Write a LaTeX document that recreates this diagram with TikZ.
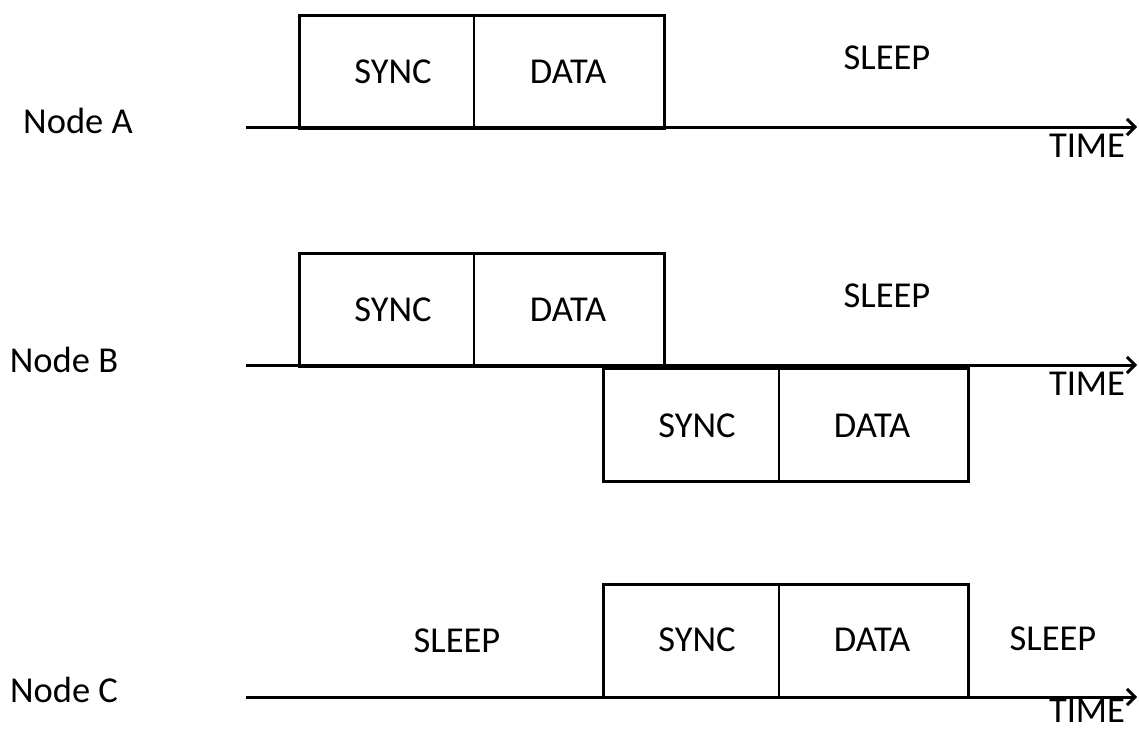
\documentclass[tikz,border=0pt]{standalone}
\usepackage{fontspec}
\setmainfont{Carlito}
\usetikzlibrary{arrows.meta}
\begin{document}
\begin{tikzpicture}[x=1pt,y=-1pt,
  every node/.style={font=\fontsize{36.5}{42}\selectfont, inner sep=0pt},
  lbl/.style={anchor=base},
  frame/.style={draw, line width=3pt, minimum width=365pt, minimum height=113pt, anchor=north west},
  divider/.style={line width=2pt},
  axis/.style={line width=3pt, -{Straight Barb[length=8pt,width=16pt,line width=3pt]}}]
\useasboundingbox (0,0) rectangle (1139,728);

% ---------- Node A ----------
\node[lbl] (nA) at (78,133) {Node A};
\node[frame] (fA) at (298,14) {};
\draw[divider] (474,14) coordinate (dA1) -- (474,127) coordinate (dA2);
\node[lbl] (sA) at (393,83) {SYNC};
\node[lbl] (tA) at (568,83) {DATA};
\node[lbl] (slA) at (887,69) {SLEEP};
\coordinate (a0) at (246,127);
\coordinate (a1) at (1137,127);
\draw[axis] (a0) -- (a1);
\node[lbl] (timeA) at (1087,157) {TIME};

% ---------- Node B ----------
\node[lbl] (nB) at (64,372) {Node B};
\node[frame] (fB) at (298,252) {};
\draw[divider] (474,252) coordinate (dB1) -- (474,365) coordinate (dB2);
\node[lbl] (sB) at (393,321) {SYNC};
\node[lbl] (tB) at (568,321) {DATA};
\node[lbl] (slB) at (887,307) {SLEEP};
\node[frame] (fB2) at (602,367) {};
\draw[divider] (779,367) coordinate (dB3) -- (779,480) coordinate (dB4);
\node[lbl] (sB2) at (697,437) {SYNC};
\node[lbl] (tB2) at (872,437) {DATA};
\coordinate (b0) at (246,365);
\coordinate (b1) at (1137,365);
\draw[axis] (b0) -- (b1);
\node[lbl] (timeB) at (1087,395) {TIME};

% ---------- Node C ----------
\node[lbl] (nC) at (64,702) {Node C};
\node[frame] (fC) at (602,583) {};
\draw[divider] (779,583) coordinate (dC1) -- (779,696) coordinate (dC2);
\node[lbl] (slC1) at (457,652) {SLEEP};
\node[lbl] (sC) at (697,651) {SYNC};
\node[lbl] (tC) at (872,651) {DATA};
\node[lbl] (slC2) at (1053,650) {SLEEP};
\coordinate (c0) at (246,697);
\coordinate (c1) at (1137,697);
\draw[axis] (c0) -- (c1);
\node[lbl] (timeC) at (1087,722) {TIME};
\end{tikzpicture}
\end{document}
